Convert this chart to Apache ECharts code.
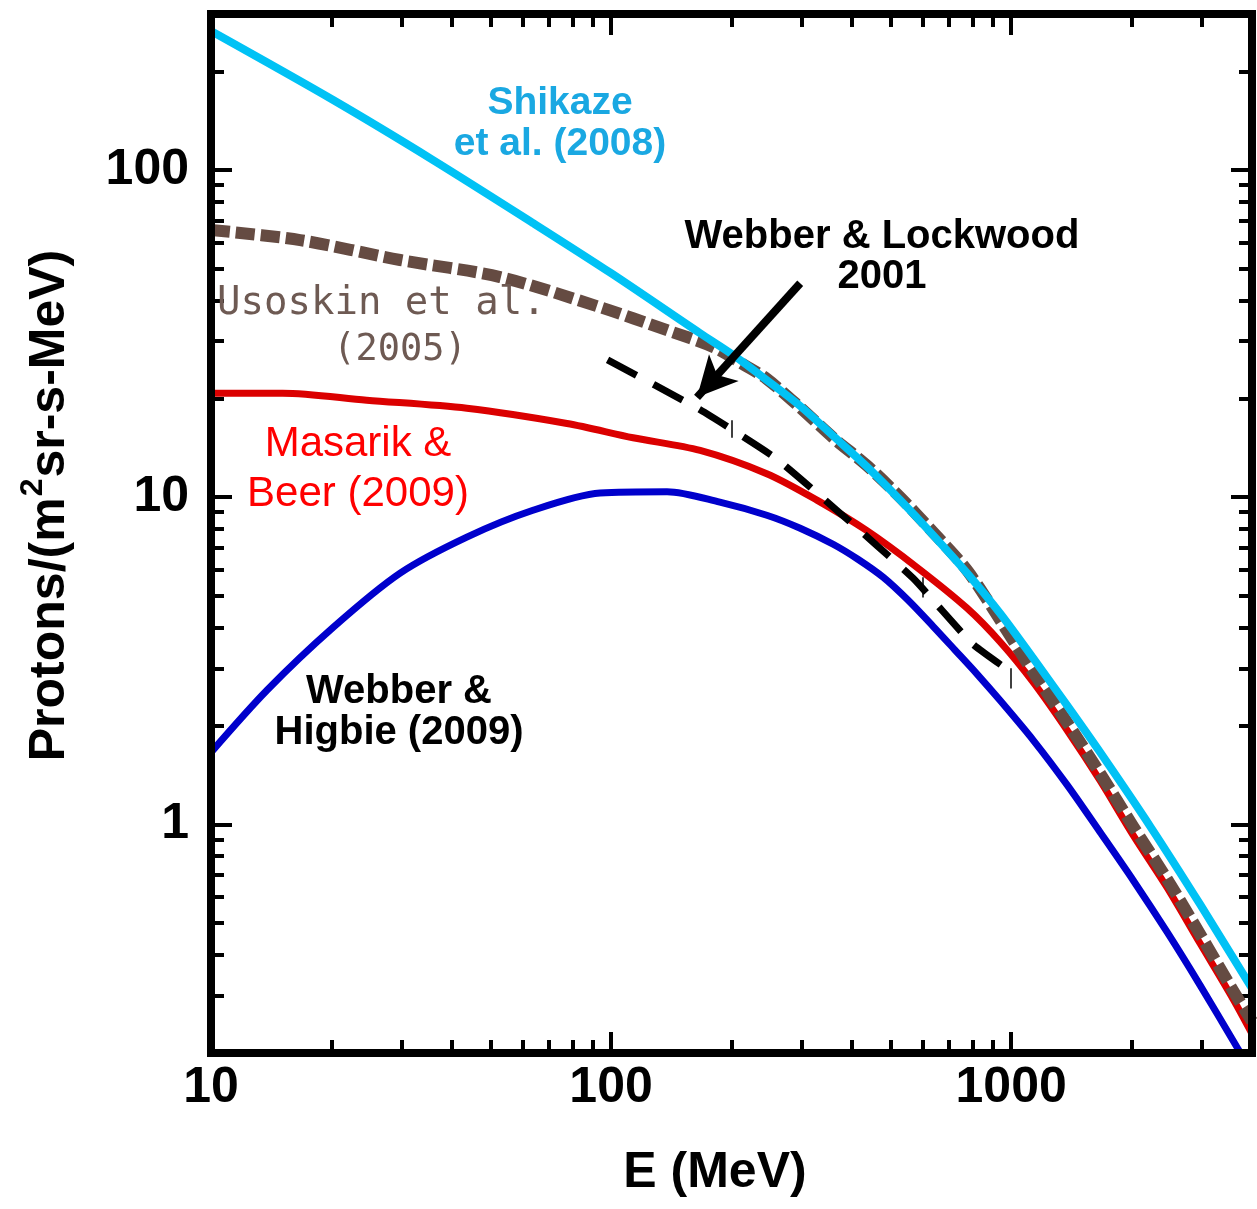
<!DOCTYPE html>
<html>
<head>
<meta charset="utf-8">
<script src="https://cdn.jsdelivr.net/npm/echarts@6/dist/echarts.min.js"></script>
<style>
  html, body { margin: 0; padding: 0; background: #ffffff; }
  #chart { width: 1257px; height: 1209px; }
</style>
</head>
<body>
<div id="chart"></div>
<script>
// Galactic cosmic-ray proton spectra, flux vs kinetic energy (MeV)

// Shikaze et al. (2008)
const shikazeE = [10, 20.2, 35.9, 63.8, 100, 167, 202, 245, 297, 359, 436, 528, 638, 776, 939, 1135, 1380, 1669, 2226, 2968, 4000];
const shikazeF = [266, 163.7, 107.3, 68.9, 48.4, 31.7, 27.2, 22.8, 19.0, 15.4, 12.4, 9.8, 7.66, 5.86, 4.41, 3.22, 2.31, 1.66, 0.986, 0.569, 0.315];

// Usoskin et al. (2005)
const usoskinE = [10, 16.7, 29.7, 52.8, 93.9, 138, 180, 216, 245, 297, 359, 436, 528, 638, 776, 939, 1135, 1380, 1669, 2018, 2455, 2968, 3589, 4000];
const usoskinF = [65.6, 61.1, 53.1, 47.1, 38.1, 32.4, 28.8, 25.3, 23.0, 18.8, 15.2, 12.5, 10.0, 7.82, 5.98, 4.21, 2.92, 2.05, 1.43, 0.986, 0.679, 0.461, 0.310, 0.250];

// Masarik & Beer (2009)
const masarikE = [10, 15.1, 24.5, 43.6, 77.6, 113.5, 167, 245, 327, 436, 582, 776, 939, 1135, 1380, 1669, 2018, 2455, 2968, 3589, 4000];
const masarikF = [20.8, 20.8, 19.8, 18.7, 16.8, 15.2, 13.9, 11.8, 9.8, 7.9, 6.1, 4.58, 3.61, 2.72, 1.94, 1.36, 0.927, 0.64, 0.432, 0.292, 0.229];

// Webber & Higbie (2009)
const higbieE = [10, 13.8, 20.2, 29.7, 43.6, 63.8, 93.9, 138, 187, 245, 297, 359, 414, 479, 553, 638, 724, 822, 939, 1135, 1380, 1669, 2018, 2455, 2968, 3589, 3800];
const higbieF = [1.66, 2.57, 4.0, 5.86, 7.55, 9.12, 10.3, 10.4, 9.66, 8.81, 8.04, 7.18, 6.46, 5.69, 4.84, 4.03, 3.41, 2.88, 2.39, 1.81, 1.32, 0.946, 0.675, 0.468, 0.322, 0.218, 0.194];

// Webber & Lockwood 2001
const lockwoodE = [98, 167, 257, 374, 569, 799, 1000];
const lockwoodF = [26.3, 18.5, 13.2, 8.93, 5.65, 3.57, 2.92];

// small error bars on the Webber & Lockwood curve: [E, low, high]
const lockwoodBars = [[200, 15.2, 17.2], [603, 4.94, 5.69], [1000, 2.6, 3.0]];

// annotation arrow: [E, F] tail and head
const arrowTail = [297, 45.1];
const arrowHead = [164, 20.2];

// axis ranges and ticks
const xRange = [10, 4000];
const yRange = [0.2, 300];
const xMajorTicks = [10, 100, 1000];
const xMinorTicks = [20, 30, 40, 50, 60, 70, 80, 90, 200, 300, 400, 500, 600, 700, 800, 900, 2000, 3000];
const yMajorTicks = [1, 10, 100];
const yMinorTicks = [0.3, 0.4, 0.5, 0.6, 0.7, 0.8, 0.9, 2, 3, 4, 5, 6, 7, 8, 9, 20, 30, 40, 50, 60, 70, 80, 90, 200];

const SANS = '"Liberation Sans", Arial, Helvetica, sans-serif';
const MONO = '"DejaVu Sans Mono", "Liberation Mono", monospace';

const GRID = { left: 211, top: 14, right: 5, bottom: 156 };
const W = 1257, H = 1209;

function pairs(xs, ys) { return xs.map((x, i) => [x, ys[i]]); }

function fmt(v) { return String(Math.round(v)); }

function axisBase(range) {
  return {
    type: 'log', logBase: 10, min: range[0], max: range[1],
    axisLine: { show: false },
    splitLine: { show: false },
    minorTick: { show: false },
    minorSplitLine: { show: false }
  };
}

function tickAxis(range, position, ticks, len, withLabels, extra) {
  const a = axisBase(range);
  a.position = position;
  a.axisTick = { show: true, inside: true, length: len, customValues: ticks,
                 lineStyle: { color: '#000', width: 4 } };
  if (withLabels) {
    a.axisLabel = { show: true, customValues: ticks, formatter: fmt,
                    fontFamily: SANS, fontWeight: 'bold', fontSize: 50, color: '#000' };
  } else {
    a.axisLabel = { show: false };
  }
  return Object.assign(a, extra || {});
}

const xAxes = [
  tickAxis(xRange, 'bottom', xMajorTicks, 21, true, {
    name: 'E (MeV)', nameLocation: 'middle', nameGap: 95,
    nameTextStyle: { fontFamily: SANS, fontWeight: 'bold', fontSize: 50, color: '#000', padding: [0, 33, 0, 0] }
  }),
  tickAxis(xRange, 'bottom', xMinorTicks, 13, false),
  tickAxis(xRange, 'top', xMajorTicks, 21, false),
  tickAxis(xRange, 'top', xMinorTicks, 13, false)
];
xAxes[0].axisLabel.margin = 10;

const yAxes = [
  tickAxis(yRange, 'left', yMajorTicks, 21, true, {
    name: 'Protons/(m{sup|2}sr-s-MeV)', nameLocation: 'middle', nameGap: 128,
    nameTextStyle: {
      fontFamily: SANS, fontWeight: 'bold', fontSize: 50, lineHeight: 66, color: '#000', padding: [0, 0, 0, 56],
      rich: { sup: { fontFamily: SANS, fontWeight: 'bold', fontSize: 32, lineHeight: 32, color: '#000', verticalAlign: 'top', padding: [0, 1, 0, 1] } }
    }
  }),
  tickAxis(yRange, 'left', yMinorTicks, 13, false),
  tickAxis(yRange, 'right', yMajorTicks, 21, false),
  tickAxis(yRange, 'right', yMinorTicks, 13, false)
];
yAxes[0].axisLabel.margin = 22;
yAxes[0].axisLabel.padding = [0, 0, 12, 0];

function curve(name, xs, ys, color, width, dash, z) {
  return {
    name: name, type: 'line', xAxisIndex: 0, yAxisIndex: 0,
    data: pairs(xs, ys), showSymbol: false, symbol: 'none',
    smooth: 0.3, clip: true, z: z,
    lineStyle: { color: color, width: width, type: dash || 'solid', cap: 'butt', join: 'round' },
    emphasis: { disabled: true }
  };
}

const series = [
  curve('Masarik & Beer (2009)', masarikE, masarikF, '#DB0000', 7, null, 2),
  curve('Webber & Higbie (2009)', higbieE, higbieF, '#0000CC', 7, null, 2),
  curve('Usoskin et al. (2005)', usoskinE, usoskinF, '#654B42', 12, [19, 6], 3),
  curve('Shikaze et al. (2008)', shikazeE, shikazeF, '#00C2F5', 8, null, 4),
  Object.assign(curve('Webber & Lockwood 2001', lockwoodE, lockwoodF, '#000000', 7, [33, 19], 5), { smooth: 0.15 }),
  {
    name: 'error bars', type: 'line', data: [], xAxisIndex: 0, yAxisIndex: 0, z: 5,
    markLine: {
      silent: true, symbol: ['none', 'none'], animation: false,
      lineStyle: { color: '#000', width: 1.5, type: 'solid' }, label: { show: false },
      data: lockwoodBars.map(b => [{ coord: [b[0], b[1]] }, { coord: [b[0], b[2]] }])
    }
  },
  {
    name: 'arrow', type: 'line', data: [], xAxisIndex: 0, yAxisIndex: 0, z: 6,
    markLine: {
      silent: true, symbol: ['none', 'arrow'], symbolSize: [30, 40], animation: false,
      lineStyle: { color: '#000', width: 8, type: 'solid' }, label: { show: false },
      data: [[{ coord: arrowTail }, { coord: arrowHead }]]
    }
  }
];

// curve labels
function label(text, x, y, font, color, lineHeight, align) {
  return {
    type: 'text', z: 50, silent: true,
    style: { text: text, x: x, y: y, align: align || 'center', verticalAlign: 'middle',
             font: font, fill: color, lineHeight: lineHeight }
  };
}

const graphics = [
  label('Shikaze\net al. (2008)', 560, 124, 'bold 39px ' + SANS, '#1AA8E2', 41),
  label('Webber & Lockwood\n2001', 882, 257, 'bold 40px ' + SANS, '#000', 40),
  label('Usoskin et al.', 217, 304, '39px ' + MONO, '#6E5A53', 40, 'left'),
  label('(2005)', 400, 350, '37px ' + MONO, '#6E5A53', 40),
  label('Masarik &\nBeer (2009)', 358, 469, '42px ' + SANS, '#FF0000', 50),
  label('Webber &\nHigbie (2009)', 399, 712, 'bold 40px ' + SANS, '#000', 41),
  // plot frame
  {
    type: 'rect', z: 100, silent: true,
    shape: { x: GRID.left, y: GRID.top, width: W - GRID.left - GRID.right, height: H - GRID.top - GRID.bottom },
    style: { fill: 'none', stroke: '#000', lineWidth: 8 }
  }
];

const chart = echarts.init(document.getElementById('chart'), null, { renderer: 'canvas' });
chart.setOption({
  animation: false,
  backgroundColor: '#ffffff',
  grid: Object.assign({ containLabel: false }, GRID),
  xAxis: xAxes,
  yAxis: yAxes,
  series: series,
  graphic: graphics
});
</script>
</body>
</html>
